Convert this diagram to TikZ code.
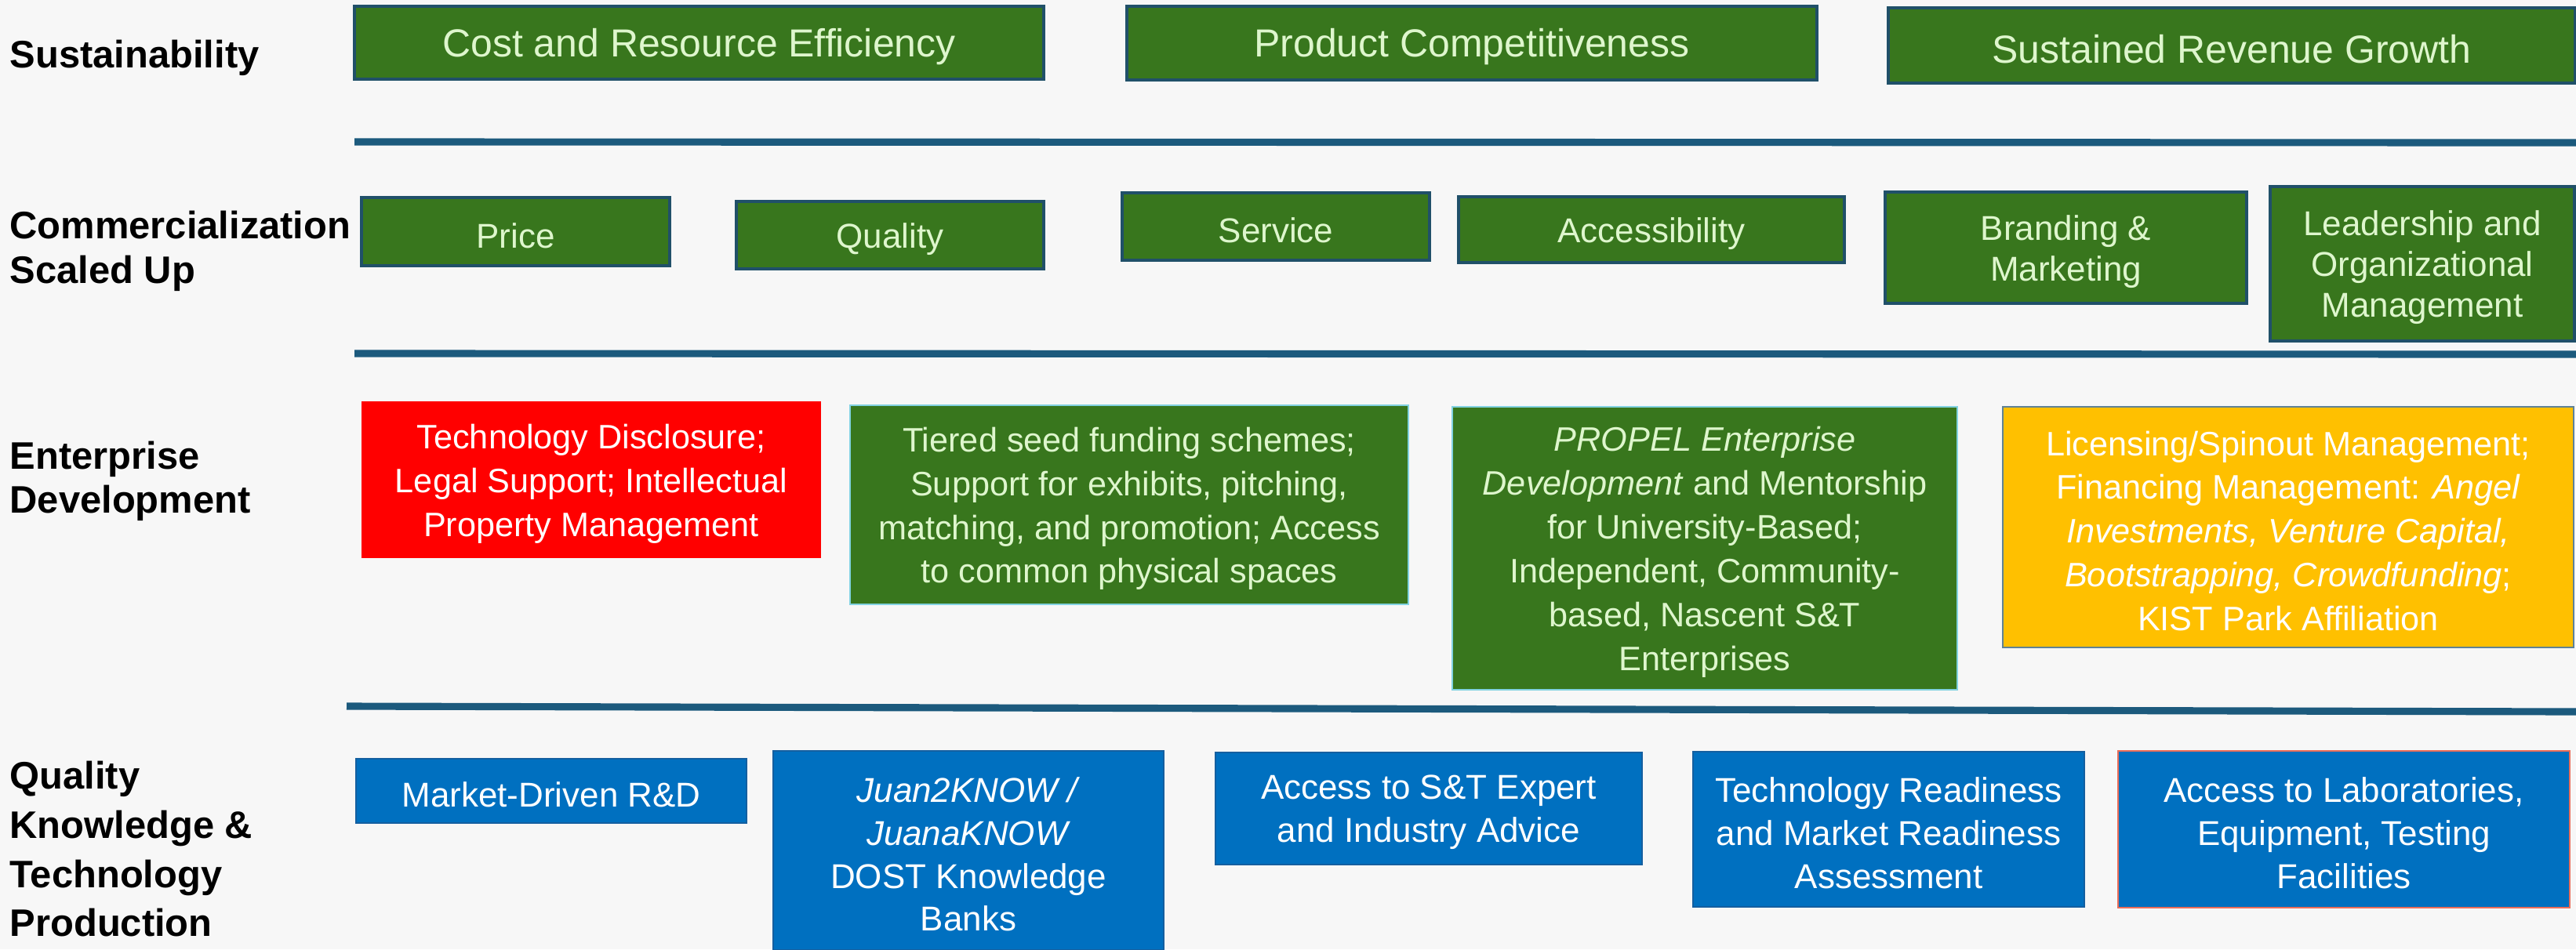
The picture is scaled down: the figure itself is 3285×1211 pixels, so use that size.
\documentclass[tikz,border=0pt]{standalone}
\usepackage{fontspec}
\setmainfont{Liberation Sans}
\definecolor{bgcol}{RGB}{247,247,247}
\definecolor{dkgreen}{RGB}{56,118,29}
\definecolor{paleg}{RGB}{222,246,205}
\definecolor{gedge}{RGB}{32,80,105}
\definecolor{cyanedge}{RGB}{130,210,225}
\definecolor{pred}{RGB}{255,0,0}
\definecolor{pyellow}{RGB}{255,192,0}
\definecolor{yedge}{RGB}{95,130,150}
\definecolor{pblue}{RGB}{0,112,192}
\definecolor{bedge}{RGB}{20,95,160}
\definecolor{labedge}{RGB}{235,110,90}
\definecolor{linecol}{RGB}{28,90,125}
% style, name, x1, y1, x2, y2, text  (pixel units, y downwards)
\newcommand\mkbox[7]{%
  \node[#1, minimum width={(#5-#3)*0.01cm}, minimum height={(#6-#4)*0.01cm}] (#2) at ({(#3+#5)/2},{(#4+#6)/2}) {};
  \node[#1, draw=none, fill=none] (#2-text) at ([yshift=-1.4pt]#2.center) {#7};}
\begin{document}
\begin{tikzpicture}[x=0.01cm,y=-0.01cm,
  box/.style={inner sep=0pt, align=center, anchor=center},
  g1/.style={box, fill=dkgreen, draw=gedge, line width=1.1pt, text=paleg, font=\fontsize{14.2pt}{17pt}\selectfont},
  g2/.style={box, fill=dkgreen, draw=gedge, line width=1.1pt, text=paleg, font=\fontsize{12.5pt}{14.8pt}\selectfont},
  g3/.style={box, fill=dkgreen, draw=cyanedge, line width=0.8pt, text=paleg, font=\fontsize{12.3pt}{15.9pt}\selectfont},
  r3/.style={box, fill=pred, text=white, font=\fontsize{12.3pt}{15.9pt}\selectfont},
  y3/.style={box, fill=pyellow, draw=yedge, line width=0.6pt, text=white, font=\fontsize{12.3pt}{15.9pt}\selectfont},
  b4/.style={box, fill=pblue, draw=bedge, line width=0.6pt, text=white, font=\fontsize{12.5pt}{15.6pt}\selectfont},
  lab/.style={inner sep=0pt, anchor=north west, align=left, text=black},
  sepline/.style={draw=linecol, line width=2.6pt}
]
\useasboundingbox (0,0) rectangle (3285,1211);
\fill[bgcol] (0,0) rectangle (3285,1211);

% row labels
\node[lab, font=\bfseries\fontsize{13.9pt}{16.2pt}\selectfont] (lsus) at (12,50) {Sustainability};
\node[lab, font=\bfseries\fontsize{13.9pt}{16.2pt}\selectfont] (lcom) at (12,268) {Commercialization\\Scaled Up};
\node[lab, font=\bfseries\fontsize{13.9pt}{16pt}\selectfont] (lent) at (12,562) {Enterprise\\Development};
\node[lab, font=\bfseries\fontsize{13.9pt}{17.9pt}\selectfont] (lqual) at (12,970) {Quality\\Knowledge \&\\Technology\\Production};

% separators
\draw[sepline] (452,181) -- (3285,182);
\draw[sepline] (452,451) -- (3285,452);
\draw[sepline] (442,901) -- (3285,908);

% row 1
\mkbox{g1}{cost}{452}{8}{1331}{101}{Cost and Resource Efficiency}
\mkbox{g1}{prod}{1437}{8}{2317}{102}{Product Competitiveness}
\mkbox{g1}{rev}{2408}{10}{3284}{106}{Sustained Revenue Growth}

% row 2
\mkbox{g2}{price}{461}{252}{854}{339}{Price}
\mkbox{g2}{qual}{939}{257}{1331}{343}{Quality}
\mkbox{g2}{serv}{1431}{246}{1823}{332}{Service}
\mkbox{g2}{acc}{1860}{251}{2352}{335}{Accessibility}
\mkbox{g2}{brand}{2404}{245}{2865}{387}{Branding \&\\Marketing}
\mkbox{g2}{lead}{2895}{238}{3283}{435}{Leadership and\\Organizational\\Management}

% row 3
\mkbox{r3}{tech}{461}{512}{1047}{712}{Technology Disclosure;\\Legal Support; Intellectual\\Property Management}
\mkbox{g3}{seed}{1084}{517}{1796}{771}{Tiered seed funding schemes;\\Support for exhibits, pitching,\\matching, and promotion; Access\\to common physical spaces}
\mkbox{g3}{propel}{1852}{519}{2496}{880}{\textit{PROPEL Enterprise}\\\textit{Development} and Mentorship\\for University-Based;\\Independent, Community-\\based, Nascent S\&T\\Enterprises}
\mkbox{y3}{lic}{2554}{519}{3282}{826}{Licensing/Spinout Management;\\Financing Management: \textit{Angel}\\\textit{Investments, Venture Capital,}\\\textit{Bootstrapping, Crowdfunding};\\KIST Park Affiliation}

% row 4
\mkbox{b4}{mkt}{454}{968}{952}{1050}{Market-Driven R\&D}
\mkbox{b4}{juan}{986}{958}{1484}{1212}{\textit{Juan2KNOW /}\\\textit{JuanaKNOW}\\DOST Knowledge\\Banks}
\mkbox{b4}{expert}{1550}{960}{2094}{1103}{Access to S\&T Expert\\and Industry Advice}
\mkbox{b4}{ready}{2159}{959}{2658}{1157}{Technology Readiness\\and Market Readiness\\Assessment}
\mkbox{b4, draw=labedge}{labs}{2701}{958}{3277}{1158}{Access to Laboratories,\\Equipment, Testing\\Facilities}
\end{tikzpicture}
\end{document}
